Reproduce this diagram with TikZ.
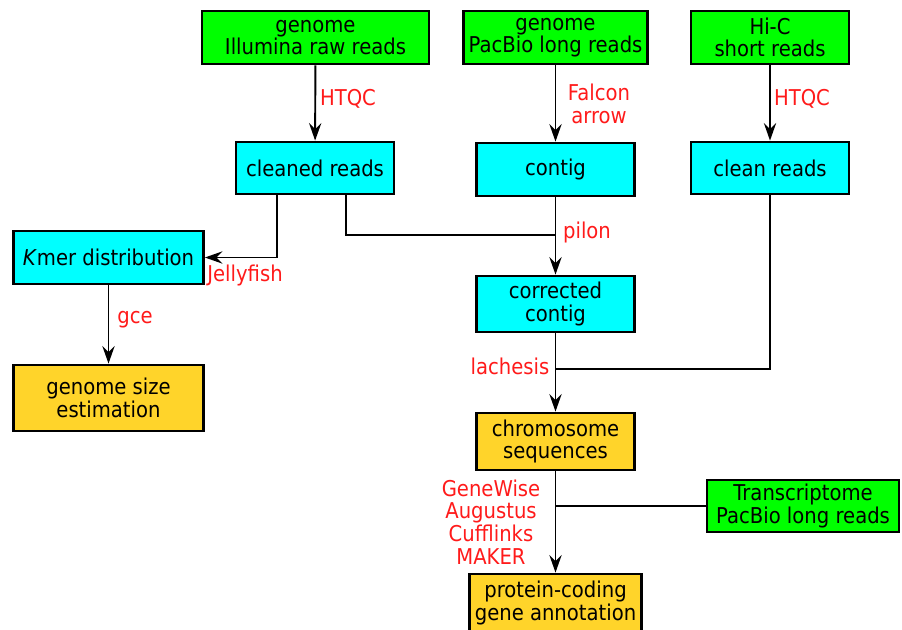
\documentclass[tikz,border=0pt]{standalone}
\usepackage{fontspec}
\setmainfont{DejaVu Sans}[FakeStretch=0.9]
\usepackage{tikz}
\usetikzlibrary{arrows.meta}
\usetikzlibrary{positioning}
\definecolor{rawgreen}{HTML}{00FF00}
\definecolor{procyan}{HTML}{00FFFF}
\definecolor{resgold}{HTML}{FFD42A}
\definecolor{toolred}{HTML}{FF1A1A}
\begin{document}
\begin{tikzpicture}[x=0.02cm,y=-0.02cm,
  box/.style={draw,line width=1.6pt,align=center,inner sep=1pt,minimum width=3.16cm,minimum height=1.06cm,font=\fontsize{12.4}{12.9}\selectfont},
  raw/.style={box,fill=rawgreen},
  mid/.style={box,fill=procyan},
  res/.style={box,fill=resgold},
  tool/.style={text=toolred,align=center,inner sep=0pt,font=\fontsize{12.4}{12.9}\selectfont},
  link/.style={line width=1.1pt},
  flow/.style={link,-{Stealth[length=10pt,width=7pt,inset=3.5pt]}}]
  \useasboundingbox (0,0) rectangle (902,629);

  \node[raw,minimum width=4.54cm] (illu) at (315.5,37.5) {genome\\Illumina raw reads};
  \node[raw,minimum width=3.68cm] (pacbio) at (555.5,37.5) {genome\\PacBio long reads};
  \node[raw] (hic) at (770,37.5) {Hi-C\\short reads};

  \node[mid,minimum height=1.04cm] (cleaned) at (315,168) {cleaned reads};
  \node[mid] (contig) at (555.5,169.5) {contig};
  \node[mid,minimum height=1.04cm] (clean) at (770,168) {clean reads};
  \node[mid,minimum width=3.8cm] (kmer) at (108.5,257.5) {\textit{K}mer distribution};
  \node[mid,minimum height=1.12cm] (corr) at (555.5,304) {corrected\\contig};

  \node[res,minimum width=3.8cm,minimum height=1.32cm] (gsize) at (108.5,398) {genome size\\estimation};
  \node[res,minimum height=1.14cm] (chrom) at (555.5,441.5) {chromosome\\sequences};
  \node[raw,minimum width=3.84cm,minimum height=1.04cm] (trans) at (803,506) {Transcriptome\\PacBio long reads};
  \node[res,minimum width=3.44cm,minimum height=1.16cm] (prot) at (555.5,603) {protein-coding\\gene annotation};

  \coordinate (pjoin) at (555.5,235);
  \coordinate (hjoin) at (555.5,369);
  \coordinate (tjoin) at (555.5,506);

  \draw[flow] (illu) -- (cleaned);
  \draw[flow] (pacbio) -- (contig);
  \draw[flow] (hic) -- (clean);
  \draw[flow] ([xshift=-0.76cm]cleaned.south) |- (kmer.east);
  \draw[link] ([xshift=0.62cm]cleaned.south) |- (pjoin);
  \draw[flow] (contig) -- (corr);
  \draw[flow] (kmer) -- (gsize);
  \draw[link] (clean.south) |- (hjoin);
  \draw[flow] (corr) -- (chrom);
  \draw[link] (trans.west) -- (tjoin);
  \draw[flow] (chrom) -- (prot);

  \node[tool] (htqc1) at (348,99) {HTQC};
  \node[tool] (falcon) at (599,104) {Falcon\\arrow};
  \node[tool] (htqc2) at (802,99) {HTQC};
  \node[tool] (jelly) at (245,275) {Jellyfish};
  \node[tool] (pilon) at (587,232) {pilon};
  \node[tool] (gce) at (135,320) {gce};
  \node[tool] (lach) at (510,366) {lachesis};
  \node[tool] (annot) at (491,522) {GeneWise\\Augustus\\Cufflinks\\MAKER};
\end{tikzpicture}
\end{document}
